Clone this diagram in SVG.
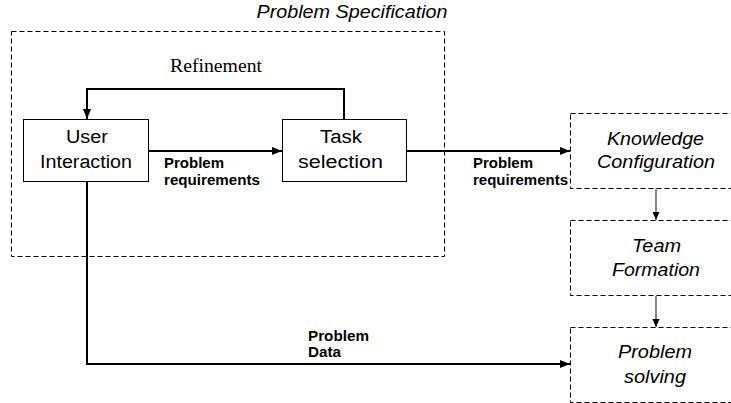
<svg xmlns="http://www.w3.org/2000/svg" width="731" height="403" viewBox="0 0 731 403">
<defs>
<style>
.bg{fill:#fff}
.dash{fill:none;stroke:#000;stroke-width:1;stroke-dasharray:5,3}
.box{fill:#fff;stroke:#000;stroke-width:1}
.t{font-family:"Liberation Sans",Arial,sans-serif;font-size:18px;fill:#000;text-anchor:middle}
.ti{font-family:"Liberation Sans",Arial,sans-serif;font-size:18px;font-style:italic;fill:#000;text-anchor:middle}
.lb{font-family:"Liberation Sans",Arial,sans-serif;font-size:14px;font-weight:bold;fill:#000}
.ser{font-family:"Liberation Serif","Times New Roman",serif;font-size:18px;fill:#000}
.thick{fill:none;stroke:#000;stroke-width:2}
.thin{fill:none;stroke:#444;stroke-width:1.3}
</style>
<marker id="ah" markerWidth="10" markerHeight="8" refX="10" refY="4" orient="auto" markerUnits="userSpaceOnUse">
<path d="M0,0 L10,4 L0,8 Z" fill="#000"/>
</marker>
<marker id="ahs" markerWidth="8" markerHeight="8" refX="8" refY="4" orient="auto" markerUnits="userSpaceOnUse">
<path d="M0,0.5 L8,4 L0,7.5 Z" fill="#000"/>
</marker>
</defs>
<rect class="bg" x="0" y="0" width="731" height="403"/>

<g id="problem-specification">
<rect class="dash" x="11.5" y="31.5" width="433" height="225"/>
<text class="ti" x="352" y="18" textLength="191" lengthAdjust="spacingAndGlyphs">Problem Specification</text>
</g>

<g id="user-interaction">
<rect class="box" x="23.5" y="119.5" width="125" height="62"/>
<text class="t" x="87" y="143" textLength="42" lengthAdjust="spacingAndGlyphs">User</text>
<text class="t" x="86" y="168" textLength="92" lengthAdjust="spacingAndGlyphs">Interaction</text>
</g>

<g id="task-selection">
<rect class="box" x="282.5" y="119.5" width="124" height="62"/>
<text class="t" x="341" y="143" textLength="42" lengthAdjust="spacingAndGlyphs">Task</text>
<text class="t" x="340.5" y="168" textLength="85" lengthAdjust="spacingAndGlyphs">selection</text>
</g>

<g id="knowledge-configuration">
<rect class="dash" x="570.5" y="113.5" width="200" height="75"/>
<text class="ti" x="655.5" y="145" textLength="97" lengthAdjust="spacingAndGlyphs">Knowledge</text>
<text class="ti" x="656" y="168" textLength="118" lengthAdjust="spacingAndGlyphs">Configuration</text>
</g>

<g id="team-formation">
<rect class="dash" x="570.5" y="220.5" width="200" height="75"/>
<text class="ti" x="656.5" y="252" textLength="49" lengthAdjust="spacingAndGlyphs">Team</text>
<text class="ti" x="656" y="276" textLength="88" lengthAdjust="spacingAndGlyphs">Formation</text>
</g>

<g id="problem-solving">
<rect class="dash" x="570.5" y="327.5" width="200" height="75"/>
<text class="ti" x="655" y="358" textLength="74" lengthAdjust="spacingAndGlyphs">Problem</text>
<text class="ti" x="655" y="383" textLength="62" lengthAdjust="spacingAndGlyphs">solving</text>
</g>

<g id="connectors">
<path class="thick" d="M344,119 V89 H87 V119" marker-end="url(#ah)"/>
<text class="ser" x="170" y="72" textLength="92" lengthAdjust="spacingAndGlyphs">Refinement</text>
<path class="thick" d="M149,151 H282" marker-end="url(#ah)"/>
<text class="lb" x="164" y="168" textLength="60" lengthAdjust="spacingAndGlyphs">Problem</text>
<text class="lb" x="164" y="185" textLength="96" lengthAdjust="spacingAndGlyphs">requirements</text>
<path class="thick" d="M407,151 H570" marker-end="url(#ah)"/>
<text class="lb" x="473" y="168" textLength="60" lengthAdjust="spacingAndGlyphs">Problem</text>
<text class="lb" x="473" y="185" textLength="95" lengthAdjust="spacingAndGlyphs">requirements</text>
<path class="thick" d="M87,182 V364 H570" marker-end="url(#ah)"/>
<text class="lb" x="308" y="341" textLength="61" lengthAdjust="spacingAndGlyphs">Problem</text>
<text class="lb" x="308" y="357" textLength="33" lengthAdjust="spacingAndGlyphs">Data</text>
<path class="thin" d="M656,189 V220" marker-end="url(#ahs)"/>
<path class="thin" d="M656,296 V327" marker-end="url(#ahs)"/>
</g>
</svg>
